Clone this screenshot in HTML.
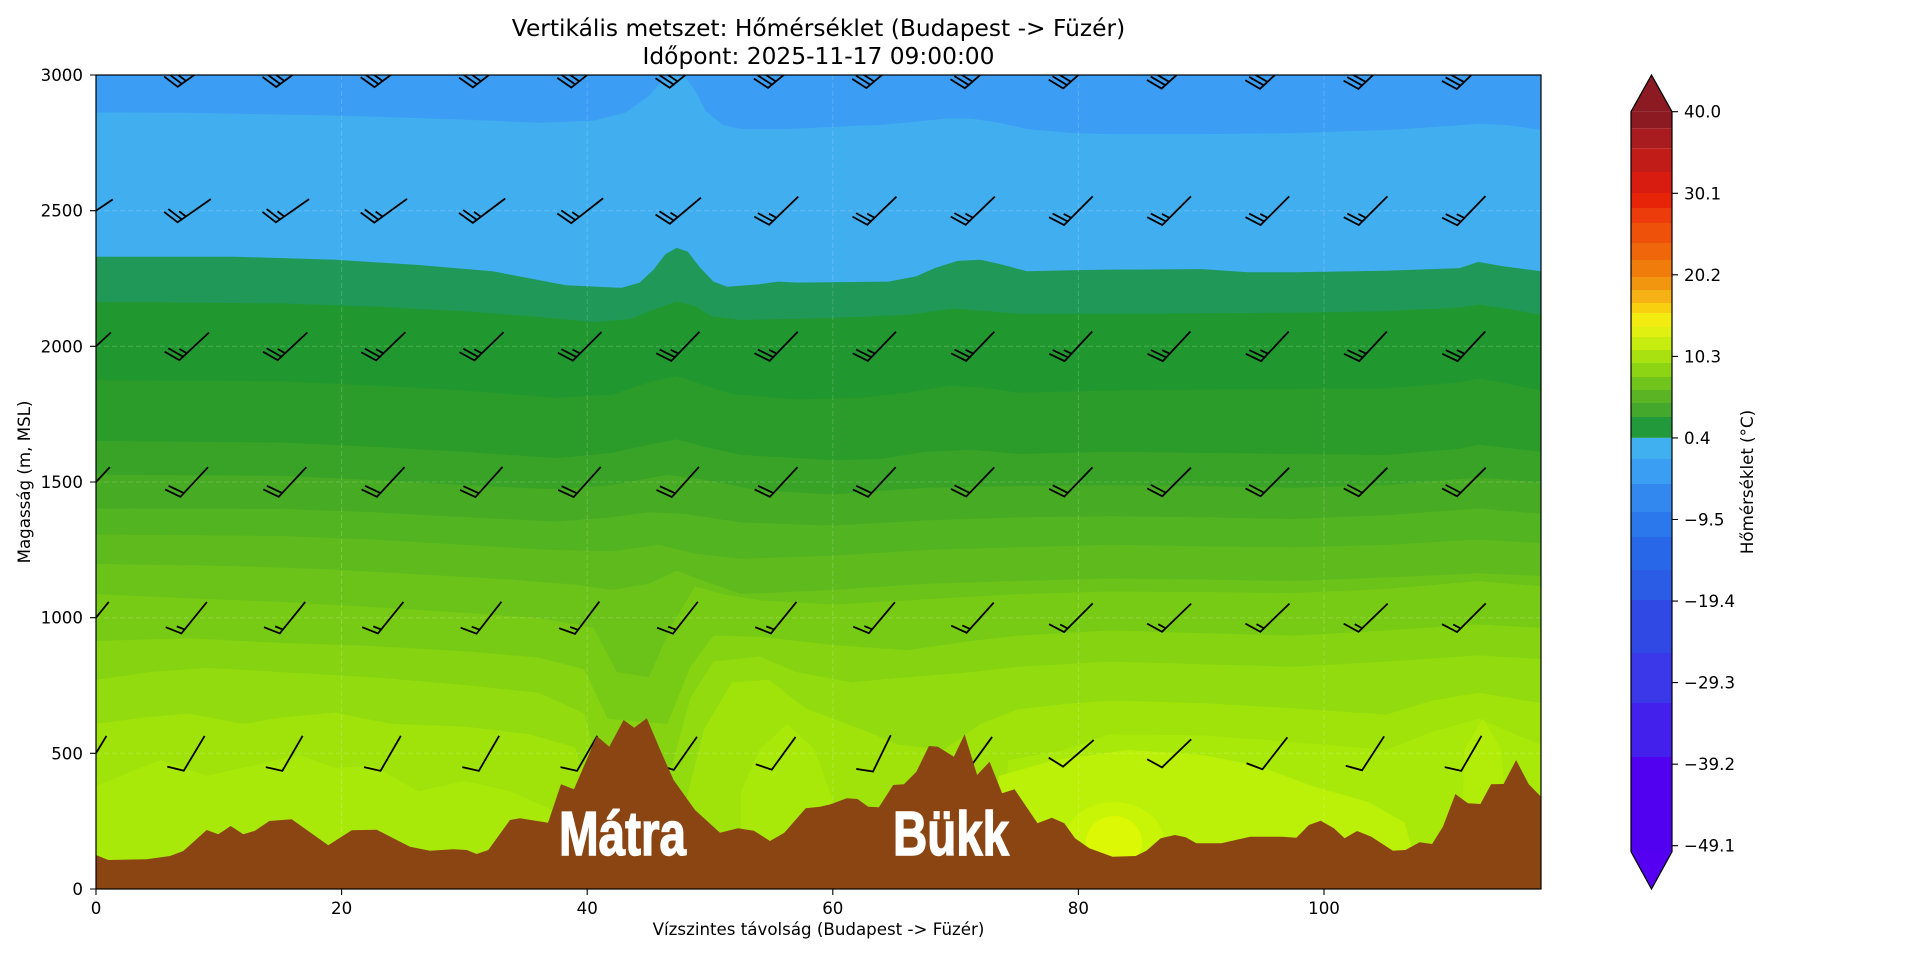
<!DOCTYPE html>
<html><head><meta charset="utf-8">
<style>
html,body{margin:0;padding:0;background:#fff;}
svg{display:block;}
text{font-family:"DejaVu Sans","Liberation Sans",sans-serif;fill:#000;}
</style></head><body>
<svg width="1920" height="960" viewBox="0 0 1920 960" xmlns="http://www.w3.org/2000/svg">
<defs>
<clipPath id="ax"><rect x="96" y="75" width="1445" height="814"/></clipPath>
<path id="b10" d="M20.25,0 L-20.25,0 L-25.31,-16.2"/>
<path id="b15" d="M20.25,0 L-20.25,0 L-25.31,-16.2 M-15.19,0 L-17.72,-8.1"/>
<path id="b20" d="M20.25,0 L-20.25,0 L-25.31,-16.2 M-15.19,0 L-20.25,-16.2"/>
<path id="b25" d="M20.25,0 L-20.25,0 L-25.31,-16.2 M-15.19,0 L-20.25,-16.2 M-10.13,0 L-12.66,-8.1"/>
<path id="b30" d="M20.25,0 L-20.25,0 L-25.31,-16.2 M-15.19,0 L-20.25,-16.2 M-10.13,0 L-15.19,-16.2"/>
</defs>
<rect width="1920" height="960" fill="#fff"/>
<g clip-path="url(#ax)">
<g transform="translate(96,75) scale(0.92156,0.51913)">
<rect x="0" y="0" width="1568" height="1568" fill="#3b9df3"/>
<path fill="#41aef0" d="M0,72 L100,73 L200,76 L300,80 L400,86 L480,92 L540,88 L575,72 L600,40 L615,10 L625,0 L640,5 L650,30 L662,70 L680,96 L700,104 L750,104 L800,100 L850,96 L890,90 L920,84 L950,84 L980,92 L1010,104 L1060,112 L1100,114 L1200,114 L1300,112 L1400,106 L1470,98 L1500,94 L1530,96 L1568,106 L1568,1568 L0,1568 Z"/>
<path fill="#1f9858" d="M0,350 L150,350 L260,356 L350,366 L430,378 L480,395 L510,405 L570,410 L590,400 L605,375 L618,345 L630,333 L642,340 L655,370 L670,398 L685,408 L720,403 L740,398 L760,400 L860,398 L890,388 L910,372 L935,358 L960,356 L985,366 L1010,378 L1060,376 L1100,375 L1200,374 L1250,380 L1300,380 L1400,377 L1480,372 L1500,360 L1525,368 L1568,378 L1568,1568 L0,1568 Z"/>
<path fill="#21982f" d="M0,437 L200,440 L300,446 L400,455 L480,466 L540,476 L580,470 L605,452 L630,436 L650,445 L668,465 L700,472 L800,468 L880,462 L930,450 L970,455 L1000,460 L1100,460 L1300,458 L1400,455 L1480,448 L1500,442 L1530,450 L1568,462 L1568,1568 L0,1568 Z"/>
<path fill="#2b9c2a" d="M0,588 L200,590 L300,598 L400,608 L500,622 L560,616 L600,592 L630,580 L655,595 L690,615 L760,625 L830,622 L880,612 L930,598 L970,604 L1000,612 L1100,608 L1200,606 L1300,605 L1400,604 L1480,592 L1500,585 L1530,594 L1568,608 L1568,1568 L0,1568 Z"/>
<path fill="#39a327" d="M0,705 L200,708 L300,716 L400,726 L500,738 L560,728 L600,712 L630,702 L660,716 L700,732 L800,742 L850,740 L900,726 L950,722 L1000,730 L1100,726 L1200,728 L1300,730 L1400,732 L1480,720 L1500,712 L1568,726 L1568,1568 L0,1568 Z"/>
<path fill="#47ab24" d="M0,770 L200,772 L300,780 L400,790 L500,798 L560,790 L620,770 L660,780 L720,800 L800,808 L900,795 L1000,792 L1100,790 L1200,792 L1300,795 L1400,790 L1500,775 L1568,785 L1568,1568 L0,1568 Z"/>
<path fill="#53b421" d="M0,835 L200,836 L300,842 L400,852 L500,860 L560,852 L600,842 L640,846 L700,862 L800,868 L900,858 L1000,852 L1100,850 L1200,852 L1300,855 L1400,848 L1500,835 L1568,845 L1568,1568 L0,1568 Z"/>
<path fill="#5fbb1d" d="M0,885 L200,888 L300,895 L400,905 L480,914 L560,918 L610,905 L650,922 L700,932 L800,926 L900,915 L1000,910 L1100,905 L1200,908 L1300,910 L1400,905 L1500,895 L1568,902 L1568,1568 L0,1568 Z"/>
<path fill="#6bc319" d="M0,942 L150,946 L250,952 L350,962 L450,972 L520,982 L560,992 L600,980 L630,955 L660,975 L700,1000 L800,992 L900,980 L1000,975 L1100,970 L1200,972 L1300,975 L1400,968 L1500,960 L1568,965 L1568,1568 L0,1568 Z"/>
<path fill="#78cb15" d="M0,1000 L100,1008 L200,1015 L300,1025 L400,1036 L480,1046 L540,1065 L565,1150 L600,1160 L625,1060 L650,985 L680,1000 L720,1012 L800,1020 L900,1010 L1000,1000 L1100,995 L1200,996 L1300,998 L1400,990 L1500,975 L1568,985 L1568,1568 L0,1568 Z"/>
<path fill="#85d311" d="M0,1090 L100,1085 L200,1094 L300,1100 L400,1110 L480,1122 L530,1145 L555,1240 L620,1250 L645,1140 L670,1080 L720,1082 L800,1098 L880,1108 L950,1090 L1000,1080 L1100,1070 L1200,1075 L1300,1080 L1400,1070 L1500,1058 L1568,1065 L1568,1568 L0,1568 Z"/>
<path fill="#92db0e" d="M0,1165 L60,1150 L120,1142 L200,1150 L300,1160 L400,1175 L480,1190 L530,1230 L545,1330 L625,1330 L645,1200 L670,1130 L720,1120 L760,1150 L820,1170 L880,1160 L950,1150 L1000,1140 L1100,1130 L1200,1135 L1300,1140 L1400,1130 L1500,1118 L1568,1125 L1568,1568 L0,1568 Z"/>
<path fill="#9fe30b" d="M0,1250 L50,1238 L100,1230 L160,1250 L200,1238 L260,1228 L320,1250 L400,1255 L470,1270 L520,1295 L540,1400 L640,1400 L660,1260 L690,1170 L730,1165 L770,1220 L830,1260 L870,1290 L920,1300 L960,1250 L1000,1222 L1050,1212 L1100,1205 L1200,1210 L1300,1220 L1400,1232 L1450,1205 L1500,1190 L1568,1210 L1568,1568 L0,1568 Z"/>
<path fill="#a9e90a" d="M0,1370 L40,1340 L70,1320 L120,1350 L170,1330 L220,1310 L260,1335 L300,1330 L350,1380 L400,1360 L450,1380 L500,1420 L520,1568 L700,1568 L700,1380 L720,1300 L750,1250 L780,1300 L800,1400 L820,1568 L980,1568 L990,1320 L1050,1300 L1100,1270 L1200,1272 L1300,1285 L1400,1300 L1450,1265 L1500,1240 L1540,1270 L1568,1290 L1568,1568 L0,1568 Z"/>
<path fill="#bbf008" d="M960,1568 L980,1350 L1040,1320 L1120,1300 L1200,1310 L1260,1330 L1320,1370 L1380,1400 L1420,1440 L1440,1568 Z"/>
<path fill="#b2ed09" d="M1480,1568 L1485,1300 L1505,1240 L1525,1300 L1535,1568 Z"/>
</g>
<ellipse cx="1114" cy="842" rx="50" ry="40" fill="#c8f406"/>
<ellipse cx="1114" cy="842" rx="28" ry="26" fill="#dcf805"/>
<g stroke="#ffffff" stroke-opacity="0.18" stroke-width="1" stroke-dasharray="5,3" fill="none">
<path d="M341.6,75 V889 M587.2,75 V889 M832.8,75 V889 M1078.4,75 V889 M1324,75 V889"/>
<path d="M96,753.3 H1541 M96,617.7 H1541 M96,482 H1541 M96,346.3 H1541 M96,210.7 H1541"/>
</g>
<g stroke="#000" stroke-width="1.8" fill="none" stroke-linejoin="miter" stroke-linecap="butt">
<use href="#b30" transform="translate(96,75) rotate(-35)"/>
<use href="#b30" transform="translate(194.2,75) rotate(-35.6)"/>
<use href="#b30" transform="translate(292.5,75) rotate(-36.3)"/>
<use href="#b30" transform="translate(390.7,75) rotate(-36.9)"/>
<use href="#b30" transform="translate(489,75) rotate(-37.6)"/>
<use href="#b30" transform="translate(587.2,75) rotate(-38.2)"/>
<use href="#b30" transform="translate(685.4,75) rotate(-38.9)"/>
<use href="#b30" transform="translate(783.7,75) rotate(-39.5)"/>
<use href="#b30" transform="translate(881.9,75) rotate(-40.1)"/>
<use href="#b30" transform="translate(980.2,75) rotate(-40.8)"/>
<use href="#b30" transform="translate(1078.4,75) rotate(-41.4)"/>
<use href="#b30" transform="translate(1176.6,75) rotate(-42.1)"/>
<use href="#b30" transform="translate(1274.9,75) rotate(-42.7)"/>
<use href="#b30" transform="translate(1373.1,75) rotate(-43.4)"/>
<use href="#b30" transform="translate(1471.4,75) rotate(-44)"/>
<use href="#b25" transform="translate(96,210.7) rotate(-34)"/>
<use href="#b25" transform="translate(194.2,210.7) rotate(-35)"/>
<use href="#b25" transform="translate(292.5,210.7) rotate(-35)"/>
<use href="#b25" transform="translate(390.7,210.7) rotate(-36)"/>
<use href="#b25" transform="translate(489,210.7) rotate(-37)"/>
<use href="#b25" transform="translate(587.2,210.7) rotate(-38)"/>
<use href="#b25" transform="translate(685.4,210.7) rotate(-40)"/>
<use href="#b25" transform="translate(783.7,210.7) rotate(-44)"/>
<use href="#b25" transform="translate(881.9,210.7) rotate(-44)"/>
<use href="#b25" transform="translate(980.2,210.7) rotate(-44)"/>
<use href="#b25" transform="translate(1078.4,210.7) rotate(-45)"/>
<use href="#b25" transform="translate(1176.6,210.7) rotate(-45)"/>
<use href="#b25" transform="translate(1274.9,210.7) rotate(-45)"/>
<use href="#b25" transform="translate(1373.1,210.7) rotate(-45)"/>
<use href="#b25" transform="translate(1471.4,210.7) rotate(-46)"/>
<use href="#b25" transform="translate(96,346.3) rotate(-43)"/>
<use href="#b25" transform="translate(194.2,346.3) rotate(-43)"/>
<use href="#b25" transform="translate(292.5,346.3) rotate(-43)"/>
<use href="#b25" transform="translate(390.7,346.3) rotate(-44)"/>
<use href="#b25" transform="translate(489,346.3) rotate(-44)"/>
<use href="#b25" transform="translate(587.2,346.3) rotate(-45)"/>
<use href="#b25" transform="translate(685.4,346.3) rotate(-46)"/>
<use href="#b25" transform="translate(783.7,346.3) rotate(-46)"/>
<use href="#b25" transform="translate(881.9,346.3) rotate(-46)"/>
<use href="#b25" transform="translate(980.2,346.3) rotate(-46)"/>
<use href="#b25" transform="translate(1078.4,346.3) rotate(-47)"/>
<use href="#b25" transform="translate(1176.6,346.3) rotate(-47)"/>
<use href="#b25" transform="translate(1274.9,346.3) rotate(-47)"/>
<use href="#b25" transform="translate(1373.1,346.3) rotate(-47)"/>
<use href="#b25" transform="translate(1471.4,346.3) rotate(-47)"/>
<use href="#b20" transform="translate(96,482) rotate(-47)"/>
<use href="#b20" transform="translate(194.2,482) rotate(-47)"/>
<use href="#b20" transform="translate(292.5,482) rotate(-47)"/>
<use href="#b20" transform="translate(390.7,482) rotate(-47)"/>
<use href="#b20" transform="translate(489,482) rotate(-48)"/>
<use href="#b20" transform="translate(587.2,482) rotate(-48)"/>
<use href="#b20" transform="translate(685.4,482) rotate(-48)"/>
<use href="#b20" transform="translate(783.7,482) rotate(-47)"/>
<use href="#b20" transform="translate(881.9,482) rotate(-47)"/>
<use href="#b20" transform="translate(980.2,482) rotate(-46)"/>
<use href="#b20" transform="translate(1078.4,482) rotate(-46)"/>
<use href="#b20" transform="translate(1176.6,482) rotate(-45)"/>
<use href="#b20" transform="translate(1274.9,482) rotate(-45)"/>
<use href="#b20" transform="translate(1373.1,482) rotate(-45)"/>
<use href="#b20" transform="translate(1471.4,482) rotate(-45)"/>
<use href="#b15" transform="translate(96,617.7) rotate(-51)"/>
<use href="#b15" transform="translate(194.2,617.7) rotate(-51)"/>
<use href="#b15" transform="translate(292.5,617.7) rotate(-51)"/>
<use href="#b15" transform="translate(390.7,617.7) rotate(-51)"/>
<use href="#b15" transform="translate(489,617.7) rotate(-52)"/>
<use href="#b15" transform="translate(587.2,617.7) rotate(-53)"/>
<use href="#b15" transform="translate(685.4,617.7) rotate(-52)"/>
<use href="#b15" transform="translate(783.7,617.7) rotate(-51)"/>
<use href="#b15" transform="translate(881.9,617.7) rotate(-50)"/>
<use href="#b15" transform="translate(980.2,617.7) rotate(-48)"/>
<use href="#b15" transform="translate(1078.4,617.7) rotate(-45)"/>
<use href="#b15" transform="translate(1176.6,617.7) rotate(-44)"/>
<use href="#b15" transform="translate(1274.9,617.7) rotate(-44)"/>
<use href="#b15" transform="translate(1373.1,617.7) rotate(-44)"/>
<use href="#b15" transform="translate(1471.4,617.7) rotate(-45)"/>
<use href="#b10" transform="translate(96,753.3) rotate(-59)"/>
<use href="#b10" transform="translate(194.2,753.3) rotate(-59)"/>
<use href="#b10" transform="translate(292.5,753.3) rotate(-60)"/>
<use href="#b10" transform="translate(390.7,753.3) rotate(-60)"/>
<use href="#b10" transform="translate(489,753.3) rotate(-60)"/>
<use href="#b10" transform="translate(587.2,753.3) rotate(-60)"/>
<use href="#b10" transform="translate(685.4,753.3) rotate(-55)"/>
<use href="#b10" transform="translate(783.7,753.3) rotate(-54)"/>
<use href="#b10" transform="translate(881.9,753.3) rotate(-64)"/>
<use href="#b10" transform="translate(980.2,753.3) rotate(-54)"/>
<use href="#b10" transform="translate(1078.4,753.3) rotate(-41)"/>
<use href="#b10" transform="translate(1176.6,753.3) rotate(-44)"/>
<use href="#b10" transform="translate(1274.9,753.3) rotate(-52)"/>
<use href="#b10" transform="translate(1373.1,753.3) rotate(-57)"/>
<use href="#b10" transform="translate(1471.4,753.3) rotate(-60)"/>
</g>
<path fill="#8B4513" d="M96,889 L96,855 L108.3,860 L146.7,859.3 L170,856 L183.3,851 L206.7,830 L218.3,834.3 L230.7,826 L243.3,834.3 L255,830.7 L269.3,821 L291.7,819.3 L328.3,845.3 L351.7,830.3 L376.7,829.7 L393.3,838.3 L410,846.7 L430,850.7 L453.3,849.3 L466.7,850 L476.7,854 L488.3,850 L510,820 L520,818.3 L548,822.7 L561,784.3 L574,789.3 L596.8,736 L609.3,746.7 L623.6,720 L634.3,727.7 L646.8,718.3 L661,751.7 L673.6,780 L695,810 L720,832.7 L737.9,828.3 L753.9,830.7 L770,841 L784.3,832.7 L805.7,808.3 L820,806.7 L830.7,804.3 L846.8,798.3 L857.5,799 L868.2,806.7 L878.9,807.3 L893.2,785 L903.9,784.3 L916.4,771.7 L928.9,746 L937.9,746.7 L953.9,756.7 L964.6,734.3 L977.1,775 L989.6,761.7 L1002.1,793.3 L1014.6,789.3 L1037.5,823.3 L1051.8,817.7 L1064.3,823.3 L1075,838.3 L1089.3,848.3 L1112.5,856.7 L1135.7,856 L1146.4,850.7 L1160.7,838.3 L1175,835 L1185.7,837.3 L1196.4,843.3 L1221.4,843.3 L1250,836.7 L1282.1,836.7 L1296.4,837.7 L1308.9,825 L1320.7,820.7 L1333.9,828.3 L1344.6,838.3 L1357.1,831 L1371.4,836.7 L1392.9,850.7 L1405.4,850 L1419.6,842.3 L1432.1,844 L1442.9,826.7 L1455.4,794 L1467.9,803.3 L1480.4,804 L1491.1,784.3 L1503.6,784 L1516.1,760 L1528.6,784 L1541,796.7 L1541,889 Z"/>
<text x="559" y="855" font-size="62" font-weight="bold" textLength="127" lengthAdjust="spacingAndGlyphs" style="font-family:'Liberation Sans Narrow','Liberation Sans',sans-serif;fill:#fff;stroke:#fff;stroke-width:1.5">Mátra</text>
<text x="893" y="855" font-size="62" font-weight="bold" textLength="116" lengthAdjust="spacingAndGlyphs" style="font-family:'Liberation Sans Narrow','Liberation Sans',sans-serif;fill:#fff;stroke:#fff;stroke-width:1.5">Bükk</text>
</g>
<rect x="96" y="75" width="1445" height="814" fill="none" stroke="#000" stroke-width="1.2"/>
<g stroke="#000" stroke-width="1.1">
<path d="M96,889 V895 M341.6,889 V895 M587.2,889 V895 M832.8,889 V895 M1078.4,889 V895 M1324,889 V895"/>
<path d="M90,889 H96 M90,753.3 H96 M90,617.7 H96 M90,482 H96 M90,346.3 H96 M90,210.7 H96 M90,75 H96"/>
</g>
<g font-size="16.67" text-anchor="middle">
<text x="96" y="914">0</text>
<text x="341.6" y="914">20</text>
<text x="587.2" y="914">40</text>
<text x="832.8" y="914">60</text>
<text x="1078.4" y="914">80</text>
<text x="1324" y="914">100</text>
</g>
<g font-size="16.67" text-anchor="end">
<text x="83" y="895">0</text>
<text x="83" y="759.3">500</text>
<text x="83" y="623.7">1000</text>
<text x="83" y="488">1500</text>
<text x="83" y="352.3">2000</text>
<text x="83" y="216.7">2500</text>
<text x="83" y="81">3000</text>
</g>
<text x="818.5" y="935" font-size="16.67" text-anchor="middle">Vízszintes távolság (Budapest -&gt; Füzér)</text>
<text transform="translate(30,482) rotate(-90)" font-size="16.67" text-anchor="middle">Magasság (m, MSL)</text>
<text x="818.5" y="36" font-size="23.33" text-anchor="middle">Vertikális metszet: Hőmérséklet (Budapest -&gt; Füzér)</text>
<text x="818.5" y="64" font-size="23.33" text-anchor="middle">Időpont: 2025-11-17 09:00:00</text>
<polygon points="1631,111.7 1651.5,75 1672,111.7" fill="#8b1a22"/>
<rect x="1631" y="111.7" width="41" height="16.6" fill="#8b1a22"/>
<rect x="1631" y="128.3" width="41" height="20" fill="#a81c20"/>
<rect x="1631" y="148.3" width="41" height="23.7" fill="#c21c18"/>
<rect x="1631" y="172" width="41" height="21" fill="#d81c10"/>
<rect x="1631" y="193" width="41" height="15" fill="#e82408"/>
<rect x="1631" y="208" width="41" height="15" fill="#ec3c0c"/>
<rect x="1631" y="223" width="41" height="20" fill="#ee520a"/>
<rect x="1631" y="243" width="41" height="17" fill="#f0660a"/>
<rect x="1631" y="260" width="41" height="17" fill="#f07c0c"/>
<rect x="1631" y="277" width="41" height="13" fill="#f29610"/>
<rect x="1631" y="290" width="41" height="13" fill="#f6b214"/>
<rect x="1631" y="303" width="41" height="10" fill="#f8d010"/>
<rect x="1631" y="313" width="41" height="14" fill="#f2ec10"/>
<rect x="1631" y="327" width="41" height="10" fill="#e0f010"/>
<rect x="1631" y="337" width="41" height="13" fill="#c6ec10"/>
<rect x="1631" y="350" width="41" height="13" fill="#a8e010"/>
<rect x="1631" y="363" width="41" height="14" fill="#8cd414"/>
<rect x="1631" y="377" width="41" height="13" fill="#70c41c"/>
<rect x="1631" y="390" width="41" height="13" fill="#5ab424"/>
<rect x="1631" y="403" width="41" height="14" fill="#44a82c"/>
<rect x="1631" y="417" width="41" height="20.9" fill="#229a3c"/>
<rect x="1631" y="437.9" width="41" height="21.1" fill="#40b0f0"/>
<rect x="1631" y="459" width="41" height="25" fill="#3a9ef2"/>
<rect x="1631" y="484" width="41" height="28" fill="#3288ee"/>
<rect x="1631" y="512" width="41" height="25" fill="#2a78ec"/>
<rect x="1631" y="537" width="41" height="33" fill="#2868e8"/>
<rect x="1631" y="570" width="41" height="30" fill="#2a5ce6"/>
<rect x="1631" y="600" width="41" height="53" fill="#3048e4"/>
<rect x="1631" y="653" width="41" height="50" fill="#3a38e8"/>
<rect x="1631" y="703" width="41" height="54" fill="#4420ec"/>
<rect x="1631" y="757" width="41" height="95" fill="#5200f0"/>
<polygon points="1631,851.7 1651.5,889 1672,851.7" fill="#5500f0"/>
<path d="M1631,111.7 L1651.5,75 L1672,111.7 L1672,851.7 L1651.5,889 L1631,851.7 Z" fill="none" stroke="#000" stroke-width="1.2"/>
<path d="M1672,111.7 H1678 M1672,193.3 H1678 M1672,274.8 H1678 M1672,356.4 H1678 M1672,437.9 H1678 M1672,519.5 H1678 M1672,601.1 H1678 M1672,682.6 H1678 M1672,764.2 H1678 M1672,845.7 H1678" stroke="#000" stroke-width="1.1"/>
<g font-size="16.67">
<text x="1684" y="117.7">40.0</text>
<text x="1684" y="199.3">30.1</text>
<text x="1684" y="280.8">20.2</text>
<text x="1684" y="362.4">10.3</text>
<text x="1684" y="443.9">0.4</text>
<text x="1684" y="525.5">−9.5</text>
<text x="1684" y="607.1">−19.4</text>
<text x="1684" y="688.6">−29.3</text>
<text x="1684" y="770.2">−39.2</text>
<text x="1684" y="851.7">−49.1</text>
</g>
<text transform="translate(1753,482) rotate(-90)" font-size="16.67" text-anchor="middle">Hőmérséklet (°C)</text>
</svg>
</body></html>
